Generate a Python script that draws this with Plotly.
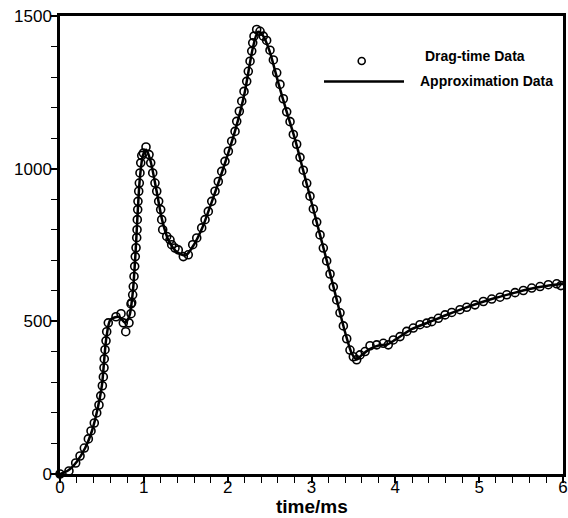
import plotly.graph_objects as go

# Drag-time data (markers)
data_t = [0.0, 0.107, 0.187, 0.239, 0.29, 0.338, 0.37, 0.409, 0.438, 0.465, 0.486, 0.505, 0.517, 0.525,
          0.528, 0.537, 0.549, 0.557, 0.576, 0.668, 0.728, 0.755, 0.784, 0.823, 0.847, 0.847,
          0.855, 0.867, 0.874, 0.883, 0.891, 0.898, 0.907, 0.915, 0.919, 0.922, 0.927, 0.93, 0.939,
          0.946, 0.954, 0.963, 0.975, 0.994, 1.026, 1.062, 1.082, 1.106, 1.133, 1.154, 1.177, 1.201,
          1.213, 1.225, 1.273, 1.312, 1.332, 1.372, 1.411, 1.471, 1.53, 1.583, 1.631, 1.69, 1.73,
          1.769, 1.81, 1.849, 1.888, 1.929, 1.968, 2.008, 2.048, 2.088, 2.108, 2.139, 2.168, 2.195,
          2.227, 2.246, 2.267, 2.287, 2.299, 2.314, 2.346, 2.386, 2.425, 2.465, 2.505, 2.545, 2.585,
          2.624, 2.664, 2.704, 2.744, 2.783, 2.823, 2.863, 2.902, 2.943, 2.982, 3.022, 3.062, 3.102,
          3.141, 3.181, 3.221, 3.26, 3.301, 3.34, 3.38, 3.42, 3.459, 3.499, 3.539, 3.579, 3.639,
          3.698, 3.778, 3.857, 3.916, 3.976, 4.056, 4.136, 4.214, 4.294, 4.374, 4.434, 4.513, 4.593,
          4.673, 4.771, 4.851, 4.95, 5.05, 5.15, 5.249, 5.329, 5.428, 5.527, 5.627, 5.726, 5.825,
          5.925, 5.975]
data_f = [0, 10, 36, 59, 85, 115, 141, 167, 200, 226, 256, 289, 318, 348,
          377, 407, 436, 466, 495, 515, 525, 495, 466, 495, 525, 557,
          561, 587, 614, 647, 680, 712, 741, 774, 800, 833, 866, 893, 926,
          953, 986, 1019, 1043, 1051, 1071, 1046, 1019, 986, 953, 926, 893, 866,
          833, 800, 778, 767, 751, 740, 734, 712, 718, 751, 773, 806, 833,
          860, 893, 926, 958, 991, 1024, 1057, 1090, 1122, 1155, 1188, 1221, 1253,
          1286, 1319, 1352, 1385, 1412, 1434, 1456, 1450, 1434, 1420, 1388, 1356, 1314,
          1276, 1229, 1186, 1154, 1112, 1080, 1037, 995, 952, 910, 868, 825, 783,
          740, 698, 655, 613, 570, 528, 485, 443, 406, 384, 374, 390, 401,
          420, 423, 428, 423, 439, 450, 467, 478, 489, 494, 499, 510, 521,
          529, 538, 546, 554, 565, 573, 579, 587, 594, 601, 609, 614, 620,
          623, 617]

# Approximation data (line)
approx_t = [0.0, 0.1, 0.2, 0.3, 0.38, 0.45, 0.5, 0.55, 0.6, 0.7, 0.78, 0.83, 0.87, 0.9, 0.95,
            0.99, 1.03, 1.08, 1.15, 1.22, 1.3, 1.4, 1.5, 1.6, 1.7, 1.8, 1.9, 2.0, 2.1, 2.2,
            2.3, 2.36, 2.42, 2.5, 2.6, 2.7, 2.8, 2.9, 3.0, 3.1, 3.2, 3.3, 3.4, 3.48, 3.54,
            3.6, 3.7, 3.8, 3.9, 4.0, 4.2, 4.4, 4.6, 4.8, 5.0, 5.2, 5.4, 5.6, 5.8, 6.0]
approx_f = [0, 12, 40, 85, 140, 215, 290, 440, 505, 515, 495, 520, 600, 720, 960,
            1045, 1062, 1025, 930, 830, 762, 726, 716, 752, 808, 883, 962, 1045, 1135, 1245,
            1395, 1448, 1436, 1385, 1285, 1190, 1100, 995, 890, 785, 680, 572, 465, 395, 375,
            390, 410, 421, 424, 440, 475, 497, 520, 541, 560, 577, 592, 606, 616, 622]

x_ticks = [0, 1, 2, 3, 4, 5, 6]
y_ticks = [0, 500, 1000, 1500]
legend_labels = ["Drag-time Data", "Approximation Data"]
x_title = "time/ms"

W, H = 568, 518
L, R, T, B = 60, 5, 16, 44
pw, ph = W - L - R, H - T - B

def px(xp):
    return (xp - L) / pw

def py(yp):
    return (H - B - yp) / ph

fig = go.Figure()
fig.add_trace(go.Scatter(x=approx_t, y=approx_f, mode="lines",
                         line=dict(color="black", width=2.5, shape="spline", smoothing=0.7),
                         showlegend=False, cliponaxis=False))
fig.add_trace(go.Scatter(x=data_t, y=data_f, mode="markers",
                         marker=dict(symbol="circle-open", size=8, color="black",
                                     line=dict(width=1.6, color="black")),
                         showlegend=False, cliponaxis=False))

font = dict(family="Liberation Sans, Arial, sans-serif", color="black")
axis_common = dict(showline=True, linecolor="black", linewidth=2.5, mirror=True,
                   ticks="outside", ticklen=6, tickwidth=1.5, tickcolor="black",
                   showgrid=False, zeroline=False, automargin=False,
                   tickfont=dict(size=17, **font))

fig.update_xaxes(range=[0, 6], tickvals=x_ticks, ticktext=[str(v) for v in x_ticks],
                 minor=dict(dtick=0.2, ticks="outside", ticklen=6, tickwidth=1.2, tickcolor="black"),
                 ticklabelstandoff=-10, **axis_common)
fig.update_yaxes(range=[0, 1500], tickvals=y_ticks, ticktext=[str(v) for v in y_ticks],
                 minor=dict(dtick=100, ticks="outside", ticklen=6, tickwidth=1.2, tickcolor="black"),
                 ticklabelstandoff=-4, **axis_common)

# legend drawn manually
fig.add_shape(type="circle", xref="paper", yref="paper",
              x0=px(361.7 - 3.5), x1=px(361.7 + 3.5), y0=py(61 + 3.5), y1=py(61 - 3.5),
              line=dict(color="black", width=1.6))
fig.add_shape(type="line", xref="paper", yref="paper",
              x0=px(324), x1=px(404), y0=py(81.5), y1=py(81.5),
              line=dict(color="black", width=2.5))
fig.add_annotation(xref="paper", yref="paper", x=px(423), y=py(56),
                   text="<b>" + legend_labels[0] + "</b>",
                   showarrow=False, xanchor="left", yanchor="middle",
                   font=dict(size=14, **font))
fig.add_annotation(xref="paper", yref="paper", x=px(418), y=py(81),
                   text="<b>" + legend_labels[1] + "</b>",
                   showarrow=False, xanchor="left", yanchor="middle",
                   font=dict(size=14, **font))
fig.add_annotation(xref="paper", yref="paper", x=0.5, y=py(506),
                   text="<b>" + x_title + "</b>",
                   showarrow=False, xanchor="center", yanchor="middle",
                   font=dict(size=19, **font))

fig.update_layout(width=W, height=H, margin=dict(l=L, r=R, t=T, b=B, autoexpand=False),
                  plot_bgcolor="white", paper_bgcolor="white", showlegend=False)

fig.write_html("out.html")
